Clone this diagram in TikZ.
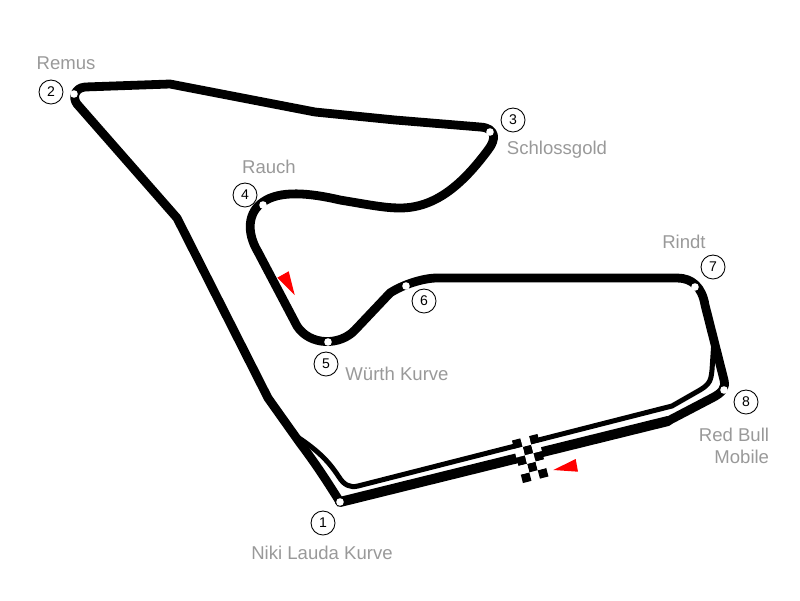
\documentclass[tikz,border=0pt]{standalone}
\usepackage{fontspec}
\setmainfont{Liberation Sans}
\definecolor{labelgray}{HTML}{999999}

\begin{document}
\begin{tikzpicture} [x=0.25mm, y=-0.25mm,
        track/.style={draw, line width=2.2mm, line join=round, line cap=round},
        widetrack/.style={track, line width=2.5mm},
        pitlane/.style={draw, line width=1.25mm, line join=round},
        turn/.style={draw=none, fill=white, circle, inner sep=0, minimum size=1.9mm},
        number/.style={draw, circle, line width=0.22mm, inner sep=0, minimum size=6mm, font=\fontsize{10}{12}\selectfont},
        corner/.style={text=labelgray, font=\fontsize{13.2}{16}\selectfont},
        flagsquare/.style={fill=#1}]
            \useasboundingbox (0, 0) rectangle (800, 600);

            \coordinate (t1) at (340, 502);
            \coordinate (t2) at (74, 94);
            \coordinate (t3) at (490, 132);
            \coordinate (t4) at (263, 205);
            \coordinate (t5) at (328, 342);
            \coordinate (t6) at (406, 286);
            \coordinate (t7) at (695, 287);
            \coordinate (t8) at (724, 390);
            \coordinate (sf) at (668, 421);
            \coordinate (pitin) at (296, 436);
            \coordinate (pitout) at (714, 340);

            % pit lane
            \draw [pitlane] (pitin) .. controls (322, 453) and (331, 465) .. (339, 477)
                .. controls (344, 485) and (350, 488) .. (358, 486)
                -- (672, 406) -- (700, 390) .. controls (710, 384) and (711, 380) .. (712, 370)
                -- (pitout);

            % circuit
            \draw [widetrack] (t1) -- (sf);
            \draw [track] (sf) -- (712, 398) .. controls (722, 393) and (726, 388) .. (724, 380)
                -- (705, 305) .. controls (702, 287) and (692, 278) .. (677, 278)
                -- (437, 278) .. controls (423, 278) and (402, 285) .. (390, 293)
                -- (355, 330) .. controls (340, 346) and (310, 346) .. (297, 326)
                -- (258, 252) .. controls (246, 232) and (248, 212) .. (263, 202)
                .. controls (280, 190) and (310, 193) .. (340, 200)
                .. controls (370, 205) and (385, 208) .. (400, 208)
                .. controls (435, 208) and (462, 185) .. (488, 150)
                .. controls (496, 140) and (497, 128) .. (480, 127)
                -- (395, 120) -- (315, 112) -- (170, 84) -- (85, 87)
                .. controls (75, 88) and (72, 97) .. (77, 104)
                -- (177, 218) -- (268, 398) -- (300, 443)
                .. controls (315, 463) and (325, 478) .. (t1);

            \node [turn] (dot1) at (t1) {};
            \node [turn] (dot2) at (t2) {};
            \node [turn] (dot3) at (t3) {};
            \node [turn] (dot4) at (t4) {};
            \node [turn] (dot5) at (t5) {};
            \node [turn] (dot6) at (t6) {};
            \node [turn] (dot7) at (t7) {};
            \node [turn] (dot8) at (t8) {};

            \node [number] (n1) at (323, 523) {1};
            \node [number] (n2) at (51, 92)   {2};
            \node [number] (n3) at (513, 120) {3};
            \node [number] (n4) at (245, 195) {4};
            \node [number] (n5) at (326, 364) {5};
            \node [number] (n6) at (424, 301) {6};
            \node [number] (n7) at (713, 267) {7};
            \node [number] (n8) at (746, 402) {8};

            \node [corner] (remus) at (66, 63)        {Remus};
            \node [corner] (schloss) at (557, 150)    {Schlossgold};
            \node [corner] (rauch) at (269, 167)      {Rauch};
            \node [corner] (wurth) at (397, 374)      {Würth Kurve};
            \node [corner] (rindt) at (684, 242)      {Rindt};
            \node [corner, align=right] (redbull) at (734, 446) {Red Bull\\Mobile};
            \node [corner] (niki) at (322, 553)       {Niki Lauda Kurve};

            % chequered flag
            \begin{scope}[shift={(528, 450)}, x={(2.125mm, 0.55mm)}, y={(0.55mm, -2.125mm)}]
                \foreach \i/\j/\col in {-1/-1/black, 1/-1/black, 0/0/black, -1/1/black, 1/1/black,
                        0/2/black, -1/3/black, 1/3/black, 0/-1/white, -1/0/white, 1/0/white,
                        0/1/white, -1/2/white, 1/2/white} {
                    \fill [flagsquare=\col] (\i-0.5, \j-0.5) -- ++(1, 0) -- ++(0, 1) -- ++(-1, 0) -- cycle;
                }
            \end{scope}

            % direction marks
            \fill [red] (277.3, 277.7) -- (288.7, 271.3) -- (294.7, 295) -- cycle;
            \fill [red] (553.3, 470) -- (575.7, 459) -- (578, 471.7) -- cycle;
        \end{tikzpicture}
\end{document}
